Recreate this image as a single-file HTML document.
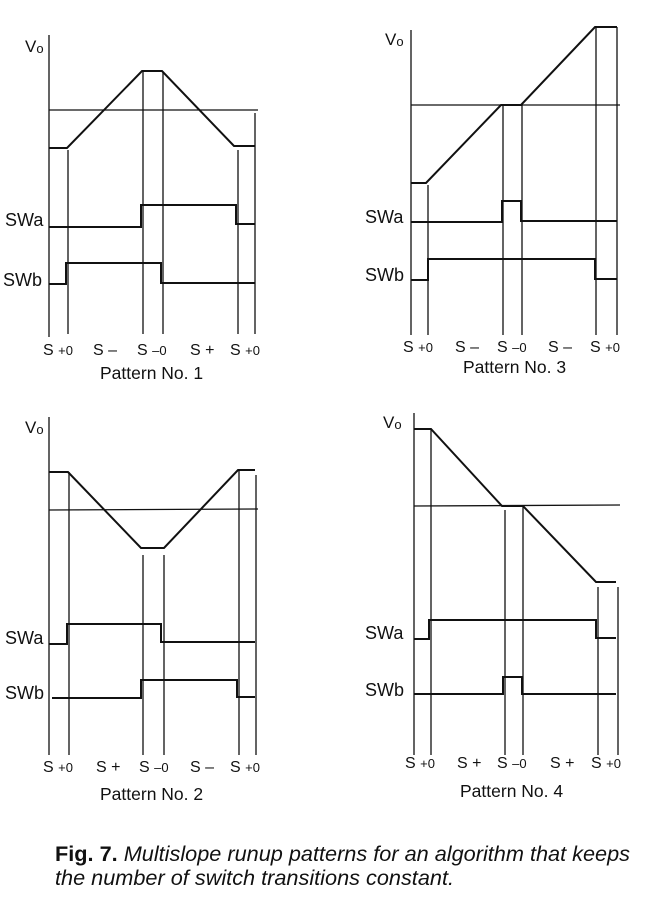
<!DOCTYPE html>
<html><head><meta charset="utf-8"><style>
html,body{margin:0;padding:0;background:#fff;}
svg{display:block;}
text{font-family:"Liberation Sans",sans-serif;fill:#111;}
</style></head><body>
<svg width="654" height="903" viewBox="0 0 654 903" xmlns="http://www.w3.org/2000/svg">
<g stroke="#111" fill="none" stroke-width="1.3">
<!-- Pattern 1 -->
<line x1="49" y1="35" x2="49" y2="337"/>
<line x1="49" y1="110" x2="258" y2="110"/>
<line x1="68" y1="150" x2="68" y2="334"/>
<line x1="143" y1="72" x2="143" y2="334"/>
<line x1="163" y1="72" x2="163" y2="334"/>
<line x1="238" y1="150" x2="238" y2="334"/>
<line x1="255" y1="113" x2="255" y2="334"/>
<polyline stroke-width="2" points="49,148 67,148 142,71 162,71 234,146 255,146"/>
<polyline stroke-width="2" points="49,227 141,227 141,205 236,205 236,224 255,224"/>
<polyline stroke-width="2" points="49,284 66,284 66,263 161,263 161,283 255,283"/>
<!-- Pattern 3 -->
<line x1="411" y1="30" x2="411" y2="335"/>
<line x1="617" y1="27" x2="617" y2="335"/>
<line x1="411" y1="105" x2="620" y2="105"/>
<line x1="428" y1="185" x2="428" y2="335"/>
<line x1="503" y1="105" x2="503" y2="335"/>
<line x1="522" y1="105" x2="522" y2="335"/>
<line x1="596" y1="27" x2="596" y2="335"/>
<polyline stroke-width="2" points="411,183 426,183 501,105 521,105 595,27 617,27"/>
<polyline stroke-width="2" points="411,222 502,222 502,201 521,201 521,221 617,221"/>
<polyline stroke-width="2" points="411,280 428,280 428,259 595,259 595,279 617,279"/>
<!-- Pattern 2 -->
<line x1="49" y1="417" x2="49" y2="755"/>
<line x1="49" y1="510" x2="258" y2="509"/>
<line x1="69" y1="472" x2="69" y2="755"/>
<line x1="143" y1="555" x2="143" y2="755"/>
<line x1="164" y1="555" x2="164" y2="755"/>
<line x1="239" y1="470" x2="239" y2="755"/>
<line x1="256" y1="475" x2="256" y2="755"/>
<polyline stroke-width="2" points="49,472 68,472 141,548 164,548 238,470 255,470"/>
<polyline stroke-width="2" points="49,644 67,644 67,624 161,624 161,642 255,642"/>
<polyline stroke-width="2" points="52,698 141,698 141,680 237,680 237,697 255,697"/>
<!-- Pattern 4 -->
<line x1="414" y1="413" x2="414" y2="755"/>
<line x1="414" y1="506" x2="620" y2="505"/>
<line x1="431" y1="429" x2="431" y2="755"/>
<line x1="505" y1="510" x2="505" y2="755"/>
<line x1="523" y1="506" x2="523" y2="755"/>
<line x1="598" y1="587" x2="598" y2="755"/>
<line x1="618" y1="587" x2="618" y2="755"/>
<polyline stroke-width="2" points="414,429 431,429 502,506 523,506 596,582 616,582"/>
<polyline stroke-width="2" points="414,639 429,639 429,620 596,620 596,638 616,638"/>
<polyline stroke-width="2" points="414,694 503,694 503,677 522,677 522,694 616,694"/>
</g>
<g font-size="16">
<!-- P1 -->
<text x="25" y="52" font-size="17">V<tspan font-size="13" dy="1">o</tspan></text>
<text x="5" y="226" font-size="18">SWa</text>
<text x="3" y="286" font-size="18">SWb</text>
<text x="43" y="355">S <tspan font-size="13">+0</tspan></text>
<text x="93" y="355">S –</text>
<text x="137" y="355">S <tspan font-size="13">–0</tspan></text>
<text x="190" y="355">S +</text>
<text x="230" y="355">S <tspan font-size="13">+0</tspan></text>
<text x="100" y="379" font-size="17.5">Pattern No. 1</text>
<!-- P3 -->
<text x="385" y="45" font-size="17">V<tspan font-size="13" dy="1">o</tspan></text>
<text x="365" y="223" font-size="18">SWa</text>
<text x="365" y="281" font-size="18">SWb</text>
<text x="403" y="352">S <tspan font-size="13">+0</tspan></text>
<text x="455" y="352">S –</text>
<text x="497" y="352">S <tspan font-size="13">–0</tspan></text>
<text x="548" y="352">S –</text>
<text x="590" y="352">S <tspan font-size="13">+0</tspan></text>
<text x="463" y="373" font-size="17.5">Pattern No. 3</text>
<!-- P2 -->
<text x="25" y="433" font-size="17">V<tspan font-size="13" dy="1">o</tspan></text>
<text x="5" y="644" font-size="18">SWa</text>
<text x="5" y="699" font-size="18">SWb</text>
<text x="43" y="772">S <tspan font-size="13">+0</tspan></text>
<text x="96" y="772">S +</text>
<text x="139" y="772">S <tspan font-size="13">–0</tspan></text>
<text x="190" y="772">S –</text>
<text x="230" y="772">S <tspan font-size="13">+0</tspan></text>
<text x="100" y="800" font-size="17.5">Pattern No. 2</text>
<!-- P4 -->
<text x="383" y="428" font-size="17">V<tspan font-size="13" dy="1">o</tspan></text>
<text x="365" y="639" font-size="18">SWa</text>
<text x="365" y="696" font-size="18">SWb</text>
<text x="405" y="768">S <tspan font-size="13">+0</tspan></text>
<text x="457" y="768">S +</text>
<text x="497" y="768">S <tspan font-size="13">–0</tspan></text>
<text x="550" y="768">S +</text>
<text x="591" y="768">S <tspan font-size="13">+0</tspan></text>
<text x="460" y="797" font-size="17.5">Pattern No. 4</text>
</g>
<text x="55" y="861" font-size="21.7"><tspan font-weight="bold">Fig. 7.</tspan><tspan font-style="italic"> Multislope runup patterns for an algorithm that keeps</tspan></text>
<text x="55" y="885" font-size="21.7" font-style="italic">the number of switch transitions constant.</text>
</svg>
</body></html>
